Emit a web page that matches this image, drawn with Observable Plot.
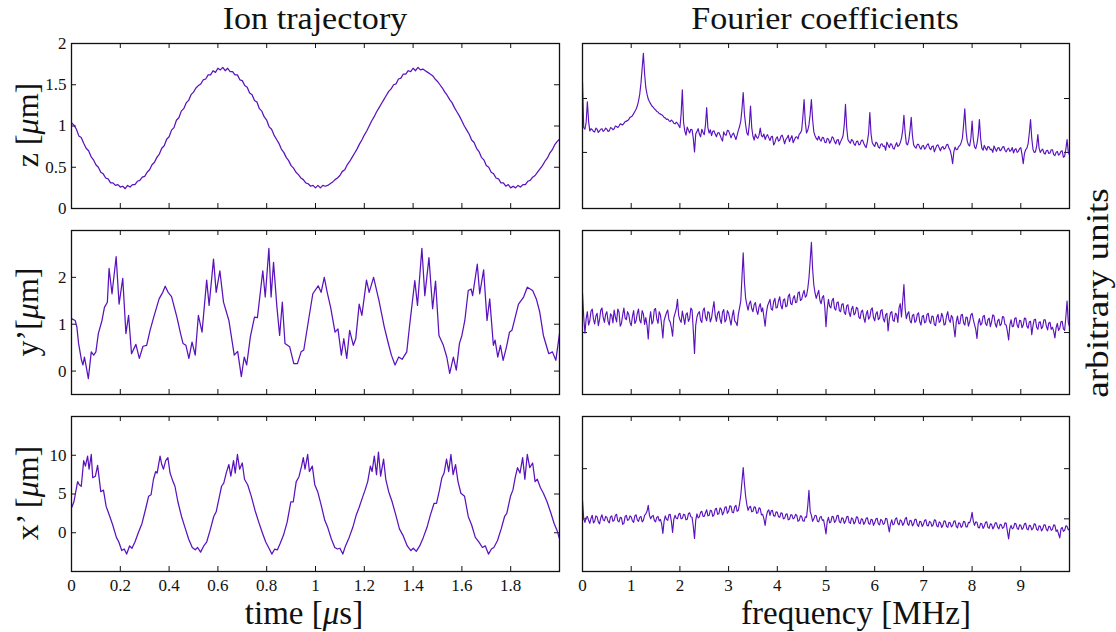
<!DOCTYPE html>
<html><head><meta charset="utf-8">
<script src="https://cdn.jsdelivr.net/npm/d3@7"></script>
<script src="https://cdn.jsdelivr.net/npm/@observablehq/plot@0.6"></script>
<style>
body{margin:0;background:#fff;}
#fig{position:relative;width:1116px;height:632px;overflow:hidden;font-family:"Liberation Serif","Times New Roman",serif;color:#111;}
.t{position:absolute;white-space:nowrap;line-height:1;}
.p{position:absolute;}
</style></head><body><div id="fig"></div>
<script>
// ---------- data ----------
const timeTicks = [0, 0.2, 0.4, 0.6, 0.8, 1, 1.2, 1.4, 1.6, 1.8];
const freqTicks = [0, 1, 2, 3, 4, 5, 6, 7, 8, 9];
const zTicks = [0, 0.5, 1, 1.5, 2];
const yTicks = [0, 1, 2];
const xTicks = [0, 5, 10];
const coefTopTicks = [1.04, 2.04];
const coefMidTicks = [1.16];
const coefBotTicks = [1.05, 2.05];

// z trajectory sampled every 0.01 us
const zStep = 0.01;
const zVals = [
1.04,1.01,0.96,0.88,0.86,0.79,0.73,0.70,0.63,0.59,
0.53,0.50,0.44,0.42,0.37,0.36,0.31,0.31,0.28,0.29,
0.26,0.27,0.24,0.28,0.26,0.29,0.29,0.33,0.34,0.38,
0.39,0.44,0.47,0.53,0.56,0.62,0.66,0.73,0.76,0.84,
0.87,0.95,0.98,1.07,1.10,1.18,1.21,1.28,1.31,1.38,
1.41,1.46,1.49,1.51,1.56,1.57,1.62,1.62,1.67,1.65,
1.70,1.68,1.71,1.67,1.70,1.66,1.66,1.62,1.62,1.56,
1.55,1.49,1.47,1.40,1.38,1.31,1.29,1.21,1.18,1.11,
1.07,0.99,0.96,0.89,0.84,0.79,0.72,0.68,0.62,0.58,
0.52,0.49,0.44,0.41,0.37,0.35,0.31,0.30,0.27,0.28,
0.25,0.28,0.25,0.28,0.27,0.28,0.30,0.32,0.35,0.37,
0.40,0.45,0.47,0.53,0.57,0.62,0.67,0.72,0.78,0.83,
0.89,0.94,1.00,1.06,1.11,1.17,1.22,1.27,1.32,1.37,
1.42,1.45,1.50,1.51,1.57,1.58,1.63,1.63,1.67,1.66,
1.70,1.67,1.71,1.68,1.69,1.67,1.65,1.63,1.61,1.57,
1.54,1.50,1.46,1.41,1.37,1.32,1.28,1.22,1.17,1.12,
1.06,1.00,0.95,0.90,0.83,0.80,0.73,0.69,0.62,0.59,
0.52,0.50,0.44,0.42,0.37,0.36,0.31,0.31,0.27,0.29,
0.25,0.27,0.25,0.28,0.26,0.29,0.29,0.33,0.34,0.38,
0.40,0.44,0.48,0.52,0.57,0.61,0.67,0.71,0.77,0.81,
0.84];

// y' trajectory (time in us, value in um)
const yTime = [0,0.015,0.022,0.029,0.041,0.047,0.053,0.059,0.069,0.081,0.091,0.100,0.110,0.125,0.135,0.147,0.154,0.166,0.183,0.195,
0.210,0.223,0.234,0.246,0.264,0.278,0.293,0.308,0.322,0.337,0.359,0.374,0.384,0.396,0.410,0.432,0.447,0.457,0.469,0.481,
0.494,0.507,0.520,0.535,0.554,0.564,0.582,0.593,0.608,0.623,0.645,0.667,0.681,0.696,0.708,0.718,0.733,0.750,0.762,0.784,
0.794,0.809,0.818,0.828,0.842,0.853,0.864,0.875,0.894,0.911,0.926,0.941,0.952,0.967,0.989,1.011,1.023,1.036,1.048,1.062,
1.080,1.092,1.106,1.116,1.128,1.140,1.155,1.165,1.179,1.190,1.209,1.220,1.238,1.260,1.282,1.297,1.311,1.326,1.341,1.355,
1.374,1.385,1.407,1.418,1.436,1.448,1.465,1.480,1.492,1.506,1.524,1.538,1.550,1.565,1.577,1.590,1.600,1.612,1.626,1.638,
1.644,1.663,1.673,1.689,1.703,1.714,1.729,1.736,1.747,1.758,1.769,1.783,1.795,1.805,1.832,1.853,1.868,1.890,1.905,1.919,
1.934,1.956,1.971,1.985,2.000];
const yVals = [1.12,1.08,0.94,0.59,0.23,0.13,0.30,0.13,-0.16,0.41,0.34,0.41,0.80,1.08,1.36,1.47,2.19,1.65,2.44,1.43,
1.98,0.80,1.19,0.37,0.57,0.27,0.53,0.55,0.87,1.15,1.54,1.68,1.81,1.68,1.59,1.15,0.80,0.59,0.55,0.27,
0.62,0.34,1.19,0.83,1.94,1.40,2.39,1.68,2.14,1.47,1.08,0.34,0.42,-0.12,0.30,0.13,0.73,1.15,1.14,2.14,
1.58,2.62,1.58,2.32,1.36,0.76,1.47,0.59,0.52,0.16,0.16,0.41,0.45,0.94,1.65,1.82,1.68,2.00,1.68,1.36,
0.83,0.90,0.34,0.69,0.27,0.87,0.55,0.69,1.43,1.19,1.94,1.68,2.00,1.51,0.94,0.62,0.34,0.13,0.30,0.25,
0.41,0.94,1.93,1.40,2.62,1.61,2.42,1.33,1.92,0.76,0.55,0.30,-0.05,0.30,0.02,0.59,0.76,1.08,1.72,1.75,
1.61,2.28,1.65,2.16,1.08,1.54,0.55,0.66,0.30,0.55,0.23,0.52,0.83,0.87,1.43,1.58,1.79,1.72,1.54,1.26,
0.76,0.37,0.41,0.23,0.80];

// x' trajectory (time in us, value in um)
const xTime = [0,0.010,0.025,0.032,0.040,0.050,0.057,0.066,0.072,0.081,0.087,0.098,0.107,0.120,0.131,0.142,0.157,0.169,0.184,0.194,
0.206,0.216,0.226,0.238,0.248,0.260,0.275,0.289,0.304,0.316,0.326,0.336,0.345,0.351,0.363,0.370,0.377,0.386,0.395,0.404,
0.416,0.424,0.436,0.451,0.465,0.480,0.495,0.507,0.517,0.529,0.542,0.554,0.568,0.583,0.593,0.605,0.615,0.624,0.634,0.645,
0.653,0.664,0.671,0.680,0.689,0.700,0.709,0.722,0.737,0.752,0.767,0.781,0.796,0.811,0.821,0.833,0.844,0.855,0.869,0.884,
0.899,0.909,0.921,0.932,0.943,0.950,0.957,0.968,0.975,0.987,0.997,1.009,1.023,1.038,1.050,1.065,1.079,1.090,1.100,1.112,
1.123,1.138,1.153,1.167,1.178,1.192,1.203,1.214,1.225,1.232,1.241,1.250,1.258,1.267,1.279,1.288,1.300,1.314,1.329,1.344,
1.358,1.376,1.391,1.401,1.413,1.427,1.442,1.457,1.471,1.486,1.496,1.508,1.518,1.527,1.537,1.546,1.555,1.564,1.574,1.584,
1.596,1.611,1.626,1.640,1.655,1.670,1.684,1.696,1.709,1.721,1.731,1.746,1.761,1.775,1.784,1.799,1.809,1.819,1.828,1.838,
1.849,1.858,1.868,1.878,1.890,1.900,1.909,1.922,1.934,1.949,1.963,1.978,1.990,2.000];
const xVals = [3.2,4.0,6.6,6.2,6.0,9.3,8.6,9.9,8.2,10.1,7.1,7.3,8.7,5.3,5.5,3.4,2.1,1.0,-0.6,-1.2,
-2.3,-2.1,-2.75,-1.7,-2.0,-1.2,0.1,1.2,3.1,4.7,4.9,6.9,7.9,7.7,9.9,8.8,8.2,9.3,9.7,7.7,
6.6,6.0,4.0,2.1,0.7,-0.8,-1.9,-2.2,-1.9,-2.5,-1.7,-1.2,0.3,2.1,2.7,4.5,6.0,6.4,7.7,8.8,
7.3,9.3,7.7,10.1,8.2,9.0,6.9,6.2,4.7,2.9,1.4,0.1,-1.2,-2.1,-2.75,-2.1,-2.2,-1.4,-0.3,1.4,
4.0,4.0,6.6,7.2,8.6,9.7,8.2,10.1,7.9,8.6,6.2,5.3,3.6,1.6,0.7,-0.8,-1.9,-2.1,-2.0,-2.75,
-1.7,-0.6,0.7,2.3,3.2,4.5,5.5,6.6,8.6,7.9,9.9,7.5,10.4,7.3,9.5,6.9,5.3,4.0,2.3,0.5,
-0.3,-1.7,-2.3,-2.0,-2.4,-1.7,-0.6,0.7,2.3,3.8,3.8,5.5,7.1,7.7,9.5,7.9,10.1,7.5,8.8,6.6,
5.1,4.7,2.1,1.0,-0.6,-1.2,-1.9,-1.7,-2.75,-2.1,-1.9,-1.0,0.5,2.1,2.5,4.7,5.5,7.2,8.4,7.7,
9.7,6.9,10.1,8.4,9.0,6.6,6.9,5.8,5.1,4.0,2.7,1.2,0.3,-0.8];

// Fourier coefficients, log10 of amplitude (arbitrary units), sampled every 0.025 MHz
const freqStep = 0.025;
const coefZ = [
2.35,1.50,1.47,1.60,1.98,1.62,1.44,1.48,1.46,1.43,1.42,1.49,1.47,1.41,1.44,1.47,1.48,1.43,1.45,1.49,
1.47,1.43,1.44,1.50,1.49,1.46,1.48,1.53,1.52,1.50,1.53,1.57,1.56,1.55,1.58,1.61,1.62,1.63,1.65,1.69,
1.70,1.72,1.76,1.80,1.84,1.90,1.99,2.12,2.32,2.60,2.88,2.50,2.24,2.12,2.03,1.98,1.94,1.90,1.88,1.85,
1.83,1.80,1.79,1.76,1.75,1.74,1.72,1.69,1.68,1.65,1.66,1.63,1.61,1.64,1.62,1.58,1.57,1.60,1.58,1.54,
1.50,1.75,2.20,1.60,1.44,1.36,1.51,1.45,1.40,1.47,1.46,1.30,1.05,1.38,1.43,1.48,1.38,1.33,1.47,1.41,
1.37,1.55,1.87,1.50,1.40,1.46,1.35,1.43,1.44,1.38,1.33,1.40,1.41,1.36,1.30,1.25,1.42,1.37,1.36,1.45,
1.44,1.38,1.31,1.37,1.40,1.34,1.28,1.36,1.45,1.52,1.62,1.85,2.15,1.75,1.55,1.40,1.36,1.55,1.90,1.50,
1.34,1.27,1.38,1.32,1.30,1.36,1.49,1.35,1.33,1.38,1.28,1.34,1.37,1.31,1.26,1.33,1.34,1.18,1.22,1.30,
1.33,1.25,1.27,1.34,1.36,1.29,1.20,1.28,1.31,1.36,1.24,1.30,1.35,1.22,1.27,1.32,1.33,1.29,1.38,1.40,
1.45,1.70,2.02,1.60,1.40,1.45,1.55,1.75,2.02,1.65,1.42,1.35,1.30,1.27,1.34,1.28,1.25,1.32,1.31,1.23,
1.22,1.30,1.29,1.21,1.25,1.33,1.31,1.24,1.20,1.27,1.28,1.18,1.24,1.29,1.35,1.55,1.93,1.50,1.28,1.24,
1.21,1.28,1.26,1.20,1.17,1.24,1.25,1.18,1.19,1.26,1.27,1.21,1.16,1.13,1.24,1.40,1.78,1.38,1.22,1.18,
1.15,1.23,1.21,1.14,1.12,1.19,1.20,1.15,1.16,1.08,1.23,1.18,1.13,1.20,1.19,1.12,1.10,1.17,1.22,1.15,
1.17,1.22,1.30,1.45,1.73,1.40,1.20,1.18,1.27,1.45,1.69,1.35,1.18,1.14,1.12,1.19,1.19,1.13,1.10,1.16,
1.17,1.10,1.13,1.18,1.20,1.12,1.09,1.15,1.16,1.05,1.11,1.17,1.18,1.12,1.07,1.13,1.15,1.10,1.12,1.18,
1.19,1.12,1.08,0.98,0.83,1.05,1.14,1.09,1.10,1.15,1.17,1.22,1.30,1.55,1.85,1.45,1.25,1.18,1.16,1.30,
1.62,1.28,1.14,1.11,1.20,1.35,1.65,1.30,1.12,1.08,1.17,1.12,1.08,1.15,1.14,1.09,1.10,1.04,1.16,1.11,
1.06,1.12,1.13,1.07,1.09,1.14,1.15,1.08,1.05,1.10,1.12,1.06,1.08,1.13,1.03,1.09,1.11,1.04,1.06,1.11,
1.13,1.00,0.83,1.02,1.09,1.12,1.20,1.40,1.65,1.30,1.10,1.04,1.05,1.15,1.37,1.12,1.04,1.08,1.10,1.03,
1.01,1.07,1.08,1.02,1.03,1.09,1.09,1.00,0.98,1.04,1.06,0.99,1.01,1.06,1.07,0.95,0.97,1.10,1.28,1.05,
0.99];
const coefY = [
1.90,1.45,1.15,1.42,1.55,1.30,1.38,1.56,1.60,1.41,1.32,1.47,1.52,1.29,1.40,1.58,1.62,1.44,1.35,1.50,
1.55,1.37,1.30,1.51,1.48,1.34,1.58,1.45,1.36,1.60,1.54,1.28,1.33,1.49,1.62,1.43,1.40,1.55,1.50,1.35,
1.29,1.46,1.57,1.33,1.38,1.52,1.60,1.39,1.34,1.57,1.51,1.31,1.44,1.30,1.04,1.40,1.55,1.32,1.37,1.59,
1.61,1.42,1.33,1.55,1.49,1.30,1.06,1.38,1.46,1.53,1.58,1.40,1.36,1.25,1.09,1.44,1.52,1.60,1.78,1.48,
1.40,1.35,1.56,1.44,1.31,1.50,1.53,1.37,1.42,1.62,1.58,1.20,0.77,1.30,1.45,1.52,1.55,1.39,1.35,1.57,
1.62,1.45,1.38,1.55,1.53,1.36,1.43,1.60,1.74,1.48,1.37,1.52,1.56,1.41,1.33,1.54,1.59,1.36,1.40,1.57,
1.52,1.41,1.30,1.47,1.58,1.38,1.35,1.29,1.50,1.62,1.75,2.20,2.65,2.10,1.80,1.68,1.58,1.70,1.75,1.61,
1.55,1.68,1.72,1.57,1.50,1.64,1.70,1.55,1.62,1.45,1.28,1.52,1.66,1.72,1.78,1.60,1.58,1.74,1.80,1.62,
1.63,1.75,1.83,1.66,1.60,1.77,1.79,1.64,1.66,1.84,1.88,1.70,1.68,1.80,1.85,1.72,1.73,1.90,1.92,1.76,
1.78,1.88,1.95,1.82,1.85,1.98,2.18,2.50,2.85,2.35,2.05,1.90,1.80,1.88,1.95,1.76,1.70,1.82,1.85,1.64,
1.27,1.60,1.78,1.65,1.62,1.76,1.80,1.61,1.58,1.72,1.73,1.57,1.55,1.69,1.70,1.54,1.50,1.66,1.68,1.53,
1.46,1.60,1.65,1.49,1.52,1.63,1.61,1.45,1.42,1.55,1.58,1.44,1.35,1.50,1.57,1.41,1.45,1.59,1.62,1.44,
1.38,1.51,1.55,1.40,1.43,1.57,1.59,1.42,1.36,1.49,1.52,1.19,1.41,1.53,1.55,1.39,1.37,1.52,1.50,1.35,
1.62,1.70,1.45,1.75,2.06,1.60,1.42,1.51,1.55,1.38,1.34,1.48,1.50,1.35,1.38,1.50,1.53,1.36,1.30,1.46,
1.48,1.34,1.36,1.50,1.52,1.37,1.33,1.47,1.46,1.31,1.29,1.44,1.50,1.35,1.38,1.52,1.45,1.30,1.32,1.47,
1.55,1.40,1.35,1.48,1.44,1.25,1.08,1.36,1.47,1.32,1.33,1.49,1.50,1.34,1.30,1.45,1.44,1.28,1.36,1.49,
1.52,1.40,1.31,1.22,1.05,1.33,1.42,1.30,1.33,1.46,1.48,1.33,1.29,1.40,1.43,1.27,1.36,1.49,1.47,1.32,
1.26,1.38,1.41,1.29,1.32,1.46,1.45,1.31,1.30,1.18,1.02,1.30,1.40,1.27,1.28,1.42,1.44,1.30,1.25,1.39,
1.38,1.25,1.30,1.43,1.42,1.28,1.24,1.36,1.37,1.12,1.29,1.40,1.41,1.26,1.22,1.35,1.36,1.23,1.27,1.40,
1.40,1.28,1.21,1.34,1.35,1.22,1.26,1.18,1.06,1.25,1.33,1.20,1.24,1.36,1.37,1.23,1.20,1.45,1.75,1.35,
1.27];
const coefX = [
1.42,1.05,0.98,1.08,1.10,1.02,0.96,1.06,1.12,0.97,1.00,1.11,1.09,0.99,0.95,1.07,1.13,1.03,1.01,1.10,
1.08,1.00,0.97,1.09,1.11,1.00,1.02,1.12,1.14,1.01,0.99,1.08,1.07,0.94,0.96,1.10,1.12,1.02,1.03,1.11,
1.09,1.01,0.98,1.11,1.13,1.03,1.00,1.08,1.10,0.99,1.02,1.12,1.15,1.20,1.32,1.12,1.05,1.10,1.12,1.02,
0.99,1.08,1.10,1.01,1.04,0.95,0.76,1.00,1.11,1.04,1.02,1.13,1.14,1.00,0.78,1.04,1.12,1.06,1.05,1.14,
1.16,1.05,1.06,1.14,1.13,1.03,1.04,1.15,1.17,1.09,1.08,0.90,0.66,1.02,1.15,1.07,1.09,1.18,1.20,1.10,
1.10,1.17,1.23,1.11,1.12,1.22,1.21,1.10,1.13,1.24,1.26,1.14,1.15,1.27,1.24,1.13,1.18,1.28,1.29,1.16,
1.20,1.31,1.30,1.18,1.17,1.29,1.32,1.20,1.22,1.35,1.52,1.80,2.07,1.75,1.50,1.33,1.22,1.28,1.30,1.19,
1.20,1.29,1.28,1.16,1.17,1.27,1.25,1.13,1.14,1.05,0.92,1.10,1.20,1.23,1.12,1.21,1.22,1.11,1.10,1.19,
1.18,1.09,1.08,1.17,1.16,1.05,1.06,1.14,1.15,1.03,1.04,1.13,1.13,1.05,1.07,1.14,1.12,1.00,1.02,1.11,
1.10,1.01,1.00,1.09,1.08,1.30,1.62,1.20,1.12,1.00,1.05,1.12,1.11,1.00,0.99,1.08,1.10,1.02,1.03,0.90,
0.75,1.00,1.08,0.97,0.99,1.10,1.09,0.98,1.01,1.11,1.12,0.99,0.97,1.07,1.06,0.96,1.00,1.09,1.10,0.98,
0.96,1.07,1.05,0.95,0.99,1.09,1.08,0.97,0.95,1.05,1.04,0.94,0.98,1.06,1.07,0.96,0.94,1.04,1.03,0.92,
0.97,1.05,1.06,0.95,0.93,1.04,1.02,0.94,0.96,1.06,1.05,0.92,0.79,0.95,1.03,0.93,0.95,1.05,1.07,0.96,
0.93,1.03,1.01,0.92,0.96,1.05,1.08,0.95,0.92,1.02,1.01,0.91,0.95,1.04,1.04,0.93,0.90,1.00,0.99,0.90,
0.94,1.02,1.03,0.92,0.91,1.00,0.98,0.90,0.93,1.03,1.02,0.91,0.89,0.99,0.97,0.88,0.92,1.01,1.00,0.90,
0.88,0.98,0.97,0.89,0.92,1.00,1.01,0.90,0.87,0.97,0.96,0.88,0.91,1.00,0.99,0.89,0.89,0.98,0.97,1.05,
1.18,1.00,0.92,0.99,0.98,0.88,0.87,0.96,0.95,0.86,0.90,0.98,0.99,0.88,0.86,0.95,0.94,0.85,0.89,0.97,
0.97,0.88,0.85,0.94,0.93,0.86,0.88,0.97,0.96,0.80,0.65,0.85,0.92,0.85,0.87,0.96,0.95,0.86,0.84,0.93,
0.92,0.84,0.87,0.95,0.96,0.85,0.83,0.92,0.91,0.83,0.86,0.95,0.94,0.84,0.82,0.91,0.90,0.81,0.85,0.93,
0.93,0.84,0.81,0.90,0.89,0.82,0.84,0.93,0.92,0.80,0.83,0.75,0.67,0.85,0.88,0.80,0.82,0.91,0.90,0.83,
0.85];

// ---------- drawing ----------
const LINE = "#5a12bd";
const FONT = "'Liberation Serif','Times New Roman',serif";
const fig = document.getElementById("fig");
const fmt = d => String(d);

function panel(o) {
  const ml = 52, mr = 8, mt = 8, mb = 32;
  const marks = [
    Plot.ruleX(o.xTicks, {stroke: "#111", strokeWidth: 1, insetTop: o.h - 5}),
    Plot.ruleX(o.xTicks, {stroke: "#111", strokeWidth: 1, insetBottom: o.h - 5}),
    Plot.ruleY(o.yTicks, {stroke: "#111", strokeWidth: 1, insetRight: o.w - 5}),
    Plot.ruleY(o.yTicks, {stroke: "#111", strokeWidth: 1, insetLeft: o.w - 5}),
    Plot.line(o.data, {x: "x", y: "y", stroke: LINE, strokeWidth: o.sw || 1.25, clip: true}),
    Plot.frame({stroke: "#111", strokeWidth: 1.3})
  ];
  if (o.xLabels) marks.push(Plot.axisX(o.xTicks, {tickSize: 0, tickPadding: 7, label: null, fontSize: 17, tickFormat: fmt}));
  if (o.yLabels) marks.push(Plot.axisY(o.yTicks, {tickSize: 0, tickPadding: 5, label: null, fontSize: 17, tickFormat: fmt}));
  const svg = Plot.plot({
    width: o.w + ml + mr, height: o.h + mt + mb,
    marginLeft: ml, marginRight: mr, marginTop: mt, marginBottom: mb,
    x: {domain: o.xDomain, axis: null},
    y: {domain: o.yDomain, axis: null},
    style: {background: "transparent", fontFamily: FONT, fontSize: "17px", color: "#111", overflow: "visible"},
    marks
  });
  const div = document.createElement("div");
  div.className = "p";
  div.style.left = (o.left - ml) + "px";
  div.style.top = (o.top - mt) + "px";
  div.append(svg);
  fig.append(div);
}

function text(html, cx, cy, size, rot, sx) {
  const d = document.createElement("div");
  d.className = "t";
  d.innerHTML = html;
  d.style.fontSize = size + "px";
  d.style.left = cx + "px";
  d.style.top = cy + "px";
  d.style.transform = "translate(-50%,-50%)" + (rot ? " rotate(-90deg)" : "") + (sx ? ` scaleX(${sx})` : "");
  fig.append(d);
}

const L = {left: 71, w: 488}, R = {left: 582, w: 487};
const rows = [{top: 43, h: 165}, {top: 230, h: 164}, {top: 416, h: 155}];

const zData = zVals.map((v, i) => ({x: i * zStep, y: v}));
const yData = yTime.map((t, i) => ({x: t, y: yVals[i]}));
const xData = xTime.map((t, i) => ({x: t, y: xVals[i]}));
const spec = arr => arr.map((v, i) => ({x: i * freqStep, y: v}));

panel({...L, ...rows[0], data: zData, xDomain: [0, 2], yDomain: [0, 2], xTicks: timeTicks, yTicks: zTicks, yLabels: true});
panel({...L, ...rows[1], data: yData, xDomain: [0, 2], yDomain: [-0.5, 3], xTicks: timeTicks, yTicks: yTicks, yLabels: true});
panel({...L, ...rows[2], data: xData, xDomain: [0, 2], yDomain: [-5, 15], xTicks: timeTicks, yTicks: xTicks, yLabels: true, xLabels: true});
panel({...R, ...rows[0], data: spec(coefZ), sw: 1.15, xDomain: [0, 10], yDomain: [0, 3.06], xTicks: freqTicks, yTicks: coefTopTicks});
panel({...R, ...rows[1], data: spec(coefY), sw: 1.15, xDomain: [0, 10], yDomain: [0, 3.07], xTicks: freqTicks, yTicks: coefMidTicks});
panel({...R, ...rows[2], data: spec(coefX), sw: 1.15, xDomain: [0, 10], yDomain: [0, 3.09], xTicks: freqTicks, yTicks: coefBotTicks, xLabels: true});

text("Ion trajectory", 315, 18, 31, false, 1.1);
text("Fourier coefficients", 825, 18, 31, false, 1.1);
text("z [<i>μ</i>m]", 27, 125, 32, true);
text("y’[<i>μ</i>m]", 27, 312, 32, true);
text("x’ [<i>μ</i>m]", 27, 493, 32, true);
text("time [<i>μ</i>s]", 304, 613, 33);
text("frequency [MHz]", 856, 613, 33);
text("arbitrary units", 1097, 293, 31, true, 1.2);
</script></body></html>
